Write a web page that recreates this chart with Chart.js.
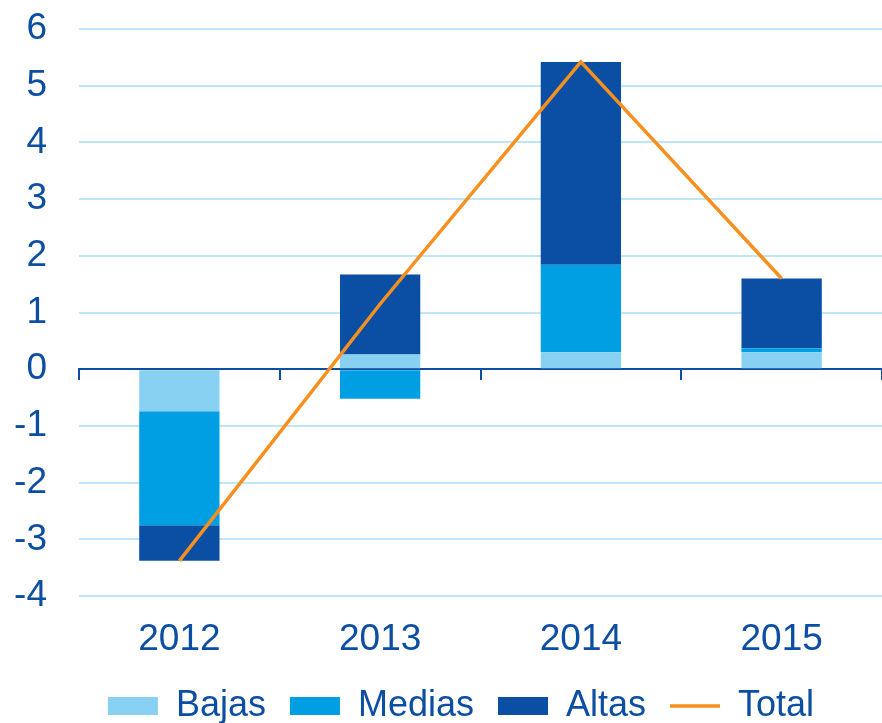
<!DOCTYPE html>
<html>
<head>
<meta charset="utf-8">
<script src="https://cdn.jsdelivr.net/npm/chart.js@4/dist/chart.umd.min.js"></script>
<style>
    html, body { margin: 0; padding: 0; background: #fff; overflow: hidden; }
    #wrap { width: 882px; height: 734px; position: relative; }
</style>
</head>
<body>
<div id="wrap"><canvas id="chart"></canvas></div>
<script>
// values
const years = ["2012", "2013", "2014", "2015"];
const bajas = [-0.74, 0.26, 0.30, 0.30];
const medias = [-2.01, -0.52, 1.54, 0.07];
const altas = [-0.63, 1.41, 3.58, 1.23];
const total = [-3.38, 1.15, 5.42, 1.60];

const textBlue = "#0B4EA2";
const gridBlue = "#BEE6F8";

// nudge the legend a bit to the right, like the original
const legendShift = {
    id: "legendShift",
    afterLayout(chart) {
        chart.legend.left += 25;
    },
};

function createChart() {
    const canvas = document.querySelector("#chart");

    let options = {
        type: "bar",
        data: {
            labels: years,
            datasets: [
                {
                    label: "Bajas",
                    data: bajas,
                    backgroundColor: "#89D1F3",
                    borderWidth: 0,
                    pointStyle: "rect",
                },
                {
                    label: "Medias",
                    data: medias,
                    backgroundColor: "#009FE3",
                    borderWidth: 0,
                    pointStyle: "rect",
                },
                {
                    label: "Altas",
                    data: altas,
                    backgroundColor: "#0A4FA3",
                    borderWidth: 0,
                    pointStyle: "rect",
                },
                {
                    // line on top of the bars
                    type: "line",
                    label: "Total",
                    data: total,
                    stack: "total",
                    order: -1,
                    borderColor: "#F7901E",
                    backgroundColor: "#F7901E",
                    borderWidth: 3.5,
                    tension: 0,
                    pointRadius: 0,
                    pointStyle: "line",
                },
            ],
        },
        options: {
            responsive: true,
            maintainAspectRatio: false,
            animation: false,
            categoryPercentage: 1,
            barPercentage: 0.4,
            layout: {
                padding: { left: 15, right: 0, top: 29, bottom: 0 },
            },
            scales: {
                x: {
                    stacked: true,
                    offset: true,
                    afterFit: (s) => { s.height = 68; },
                    grid: { display: false, drawTicks: false },
                    border: { display: false },
                    ticks: {
                        color: textBlue,
                        padding: 22,
                        font: { family: "Liberation Sans", size: 37 },
                    },
                },
                // zero line with the small category ticks
                x2: {
                    position: { y: 0 },
                    labels: years,
                    offset: true,
                    grid: {
                        offset: true,
                        drawOnChartArea: false,
                        drawTicks: true,
                        tickLength: 10,
                        color: textBlue,
                        lineWidth: 2,
                    },
                    border: { color: textBlue, width: 2 },
                    ticks: { display: false },
                },
                y: {
                    stacked: true,
                    min: -4,
                    max: 6,
                    afterFit: (s) => {
                        s.width = 64;
                        s.paddingTop = 0;
                        s.paddingBottom = 0;
                    },
                    grid: {
                        drawTicks: false,
                        lineWidth: 2,
                        color: (c) => (c.tick && c.tick.value === 0 ? "rgba(0,0,0,0)" : gridBlue),
                    },
                    border: { display: false },
                    ticks: {
                        stepSize: 1,
                        color: textBlue,
                        padding: 32,
                        font: { family: "Liberation Sans", size: 37 },
                    },
                },
            },
            plugins: {
                tooltip: { enabled: false },
                legend: {
                    display: true,
                    position: "bottom",
                    labels: {
                        usePointStyle: true,
                        pointStyleWidth: 50,
                        boxHeight: 18,
                        padding: 24,
                        color: textBlue,
                        font: { family: "Liberation Sans", size: 36 },
                        sort: (a, b) => a.datasetIndex - b.datasetIndex,
                    },
                },
            },
        },
        plugins: [legendShift],
    };

    const chart = new Chart(canvas.getContext("2d"), options);
}

createChart();
</script>
</body>
</html>
